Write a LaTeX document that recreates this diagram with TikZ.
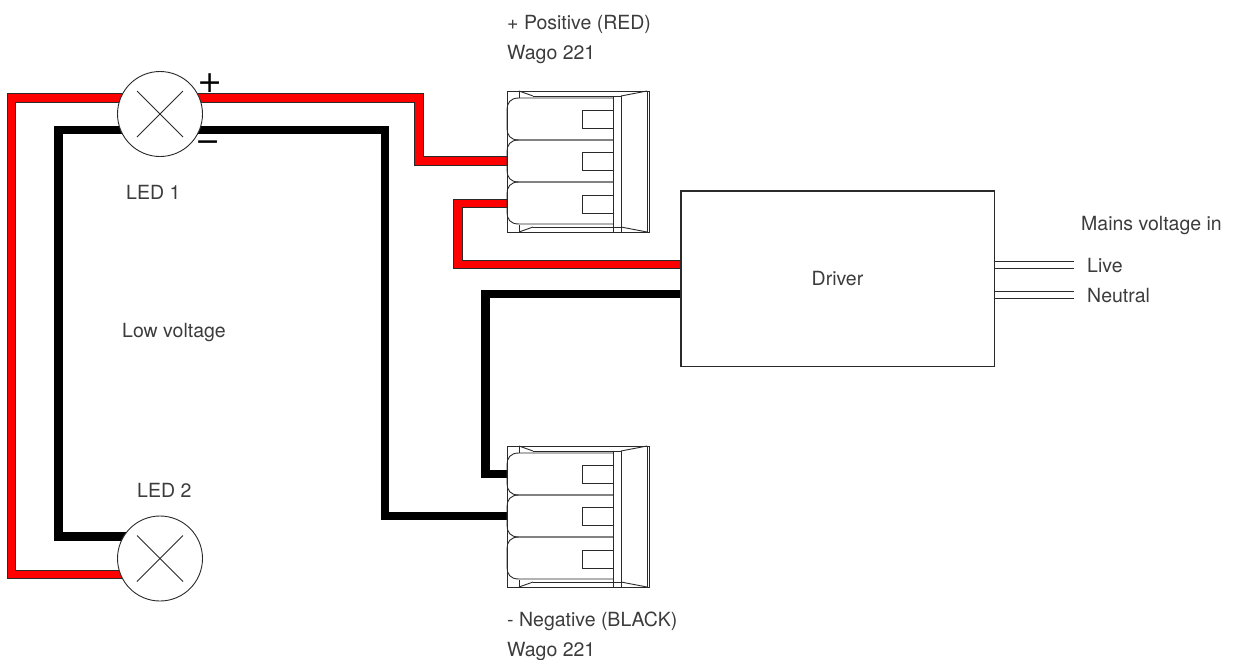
\documentclass[tikz,border=0pt]{standalone}
\usepackage{fontspec}
\setmainfont{TeX Gyre Heros}
\newfontfamily\signfont{DejaVu Sans}
\usetikzlibrary{calc}
\definecolor{txt}{HTML}{3C3C3C}
\definecolor{wirered}{HTML}{FF0000}
\definecolor{edge}{HTML}{2A2A2A}
\tikzset{
  wago/.pic={
    \draw[edge, fill=white, line width=0.9pt] (0,0) rectangle (142,141);
    \foreach \t in {7,49,91} {
      \draw[edge, line width=0.9pt] (106,\t) -- (12,\t) .. controls (3,\t) and (0,\t+5) .. (0,\t+12)
        -- (0,\t+30) .. controls (0,\t+37) and (3,\t+42) .. (12,\t+42) -- (106,\t+42);
    }
    \draw[edge, line width=0.9pt] (75,19) rectangle (106,37);
    \draw[edge, line width=0.9pt] (75,61) rectangle (106,79);
    \draw[edge, line width=0.9pt] (75,104) rectangle (106,122);
    \draw[edge, line width=0.9pt] (106,5) -- (106,141) (114,5) -- (114,141) (140,0) -- (140,141);
    \draw[edge, line width=0.9pt] (26,5) -- (114,5) (26,136) -- (114,136);
    \draw[edge, line width=0.9pt] (12,0) -- (26,5) (12,141) -- (26,136);
    \draw[edge, line width=0.9pt] (12,0) -- (12,7) (12,134) -- (12,141);
    \draw[edge, line width=0.9pt] (114,5) -- (140,0) (114,136) -- (140,141);
    \coordinate (-t1) at (0,28);
    \coordinate (-t2) at (0,70);
    \coordinate (-t3) at (0,112.5);
  }
}
\begin{document}
\begin{tikzpicture}[x=1pt,y=-1pt,
  lbl/.style={text=txt, font=\fontsize{19.5}{22}\selectfont, inner sep=0pt, anchor=base west},
  sign/.style={text=black, font=\signfont\fontsize{30}{32}\selectfont, inner sep=0pt, anchor=center},
  redwire/.style={draw=edge, line width=9.5pt, line join=miter,
     postaction={draw=wirered, line width=7.5pt, line join=miter}},
  blackwire/.style={draw=black, line width=8.5pt, line join=miter},
  mainswire/.style={draw=edge, line width=8pt,
     postaction={draw=white, line width=6pt}},
  ledlamp/.style={circle, draw=edge, fill=white, minimum size=85pt, inner sep=0pt, line width=0.9pt,
     path picture={
       \draw[edge, line width=0.8pt] ($(path picture bounding box.center)+(-23,-23)$) -- ++(46,46);
       \draw[edge, line width=0.8pt] ($(path picture bounding box.center)+(-23,23)$) -- ++(46,-46);
     }},
  boxstyle/.style={draw=edge, fill=white, line width=0.9pt, minimum width=313pt, minimum height=175pt,
     text=txt, font=\fontsize{19.5}{22}\selectfont, inner sep=0pt},
]
\useasboundingbox (0,0) rectangle (1241,659);

% lamp and driver positions
\path (160,114) coordinate (led1c);
\path (160,558.5) coordinate (led2c);
\node[boxstyle] (drv) at (837.5,278.5) {Driver};

% bend coordinates
\coordinate (r1a) at (419,98);
\coordinate (r1b) at (419,161);
\coordinate (r2a) at (458,203.5);
\coordinate (r2b) at (458,264.5);
\coordinate (r3a) at (11.5,98);
\coordinate (r3b) at (11.5,574.5);
\coordinate (b1a) at (385,130);
\coordinate (b1b) at (385,516);
\coordinate (b2a) at (485.5,294);
\coordinate (b2b) at (485.5,474);
\coordinate (b3a) at (58.5,130);
\coordinate (b3b) at (58.5,536.5);

% mains wires
\coordinate (livep) at (1074,264.5);
\coordinate (neutp) at (1074,294.5);
\draw[mainswire] (drv.east |- livep) -- (livep);
\draw[mainswire] (drv.east |- neutp) -- (neutp);

% connectors
\draw[redwire] (160,98) -- (r1a) -- (r1b) -- (507,161);
\draw[redwire] (507,203.5) -- (r2a) -- (r2b) -- (drv.west |- r2b);
\draw[redwire] (160,98) -- (r3a) -- (r3b) -- (160,574.5);
\draw[blackwire] (160,130) -- (b1a) -- (b1b) -- (507,516);
\draw[blackwire] (drv.west |- b2a) -- (b2a) -- (b2b) -- (507,474);
\draw[blackwire] (160,130) -- (b3a) -- (b3b) -- (160,536.5);

% driver border on top of wire ends
\draw[draw=edge, line width=0.9pt] (drv.south west) rectangle (drv.north east);

% Wago connectors
\pic (wt) at (507,91) {wago};
\pic (wb) at (507,446) {wago};

% lamps
\node[ledlamp] (led1) at (led1c) {};
\node[ledlamp] (led2) at (led2c) {};

% labels
\node[sign] (plus) at (210,83) {+};
\node[sign] (minus) at (208,146) {−};
\node[lbl] (poslbl) at (507,29) {+ Positive (RED)};
\node[lbl] (wagot) at (507,59) {Wago 221};
\node[lbl] (l1lbl) at (126,199) {LED 1};
\node[lbl] (lowlbl) at (122,337) {Low voltage};
\node[lbl] (l2lbl) at (137,497) {LED 2};
\node[lbl] (mainslbl) at (1081,230) {Mains voltage in};
\node[lbl] (livelbl) at (1087,272) {Live};
\node[lbl] (neutlbl) at (1087,302) {Neutral};
\node[lbl] (neglbl) at (507,626) {- Negative (BLACK)};
\node[lbl] (wagob) at (507,656) {Wago 221};
\end{tikzpicture}
\end{document}
